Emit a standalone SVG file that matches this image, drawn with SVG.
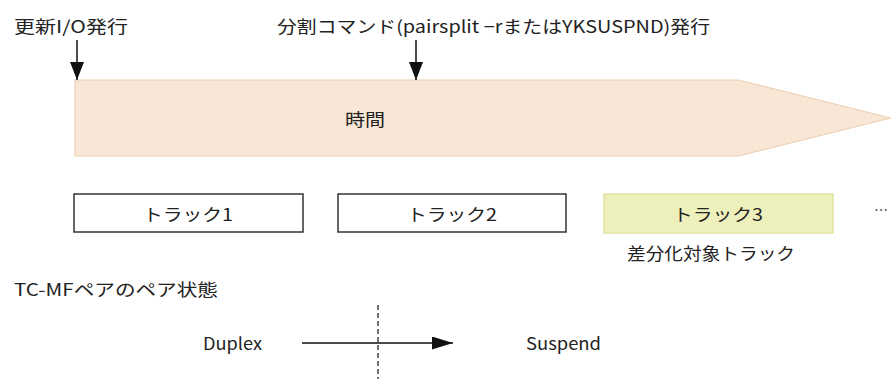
<svg xmlns="http://www.w3.org/2000/svg" width="891" height="379" viewBox="0 0 891 379">
<defs>
<style>
text{font-family:"Noto Sans CJK JP","Liberation Sans",sans-serif;font-size:17px;fill:#222;dominant-baseline:central}
.box{fill:#fff;stroke:#333;stroke-width:1.5}
.hl{fill:#eef0bc;stroke:#e2e4a0;stroke-width:1.5}
.ln{stroke:#111;stroke-width:1.5;fill:none}
</style>
<marker id="ah" viewBox="0 0 18 14" refX="18" refY="7" markerWidth="18" markerHeight="14" markerUnits="userSpaceOnUse" orient="auto">
<path d="M0,0 L18,7 L0,14 z" fill="#111"/>
</marker>
<marker id="ah2" viewBox="0 0 21 13" refX="21" refY="6.5" markerWidth="21" markerHeight="13" markerUnits="userSpaceOnUse" orient="auto">
<path d="M0,0 L21,6.5 L0,13 z" fill="#111"/>
</marker>
</defs>
<g id="time-band">
<path d="M75,80 L738,80 L891,118 L738,156 L75,156 Z" fill="#f8e6d6" stroke="#f0cfb2" stroke-width="1.2"/>
<text x="345" y="118" textLength="40" lengthAdjust="spacingAndGlyphs">時間</text>
</g>
<g id="label-io">
<text x="14" y="25" textLength="114" lengthAdjust="spacingAndGlyphs">更新I/O発行</text>
</g>
<g id="label-split">
<text x="277" y="25" textLength="433" lengthAdjust="spacingAndGlyphs">分割コマンド(pairsplit −rまたはYKSUSPND)発行</text>
</g>
<g id="track1">
<rect class="box" x="74" y="194" width="229" height="38"/>
<text x="143" y="213" textLength="90" lengthAdjust="spacingAndGlyphs">トラック1</text>
</g>
<g id="track2">
<rect class="box" x="338" y="194" width="228" height="38"/>
<text x="407" y="213" textLength="90" lengthAdjust="spacingAndGlyphs">トラック2</text>
</g>
<g id="track3">
<rect class="hl" x="604" y="194" width="229" height="39"/>
<text x="673" y="213" textLength="90" lengthAdjust="spacingAndGlyphs">トラック3</text>
<text x="627" y="252" textLength="168" lengthAdjust="spacingAndGlyphs">差分化対象トラック</text>
</g>
<g id="ellipsis">
<text x="874" y="209" style="font-size:14px">…</text>
</g>
<g id="pair-state">
<text x="14" y="288" textLength="204" lengthAdjust="spacingAndGlyphs">TC-MFペアのペア状態</text>
<text x="203" y="342" textLength="59" lengthAdjust="spacingAndGlyphs">Duplex</text>
<text x="526" y="342" textLength="75" lengthAdjust="spacingAndGlyphs">Suspend</text>
</g>
<g id="connectors">
<line class="ln" x1="77" y1="40" x2="77" y2="80" marker-end="url(#ah)"/>
<line class="ln" x1="416" y1="40" x2="416" y2="80" marker-end="url(#ah)"/>
<line class="ln" x1="302" y1="343" x2="453" y2="343" marker-end="url(#ah2)"/>
<line x1="378" y1="305" x2="378" y2="379" stroke="#111" stroke-width="1.2" stroke-dasharray="5,3"/>
</g>
</svg>
